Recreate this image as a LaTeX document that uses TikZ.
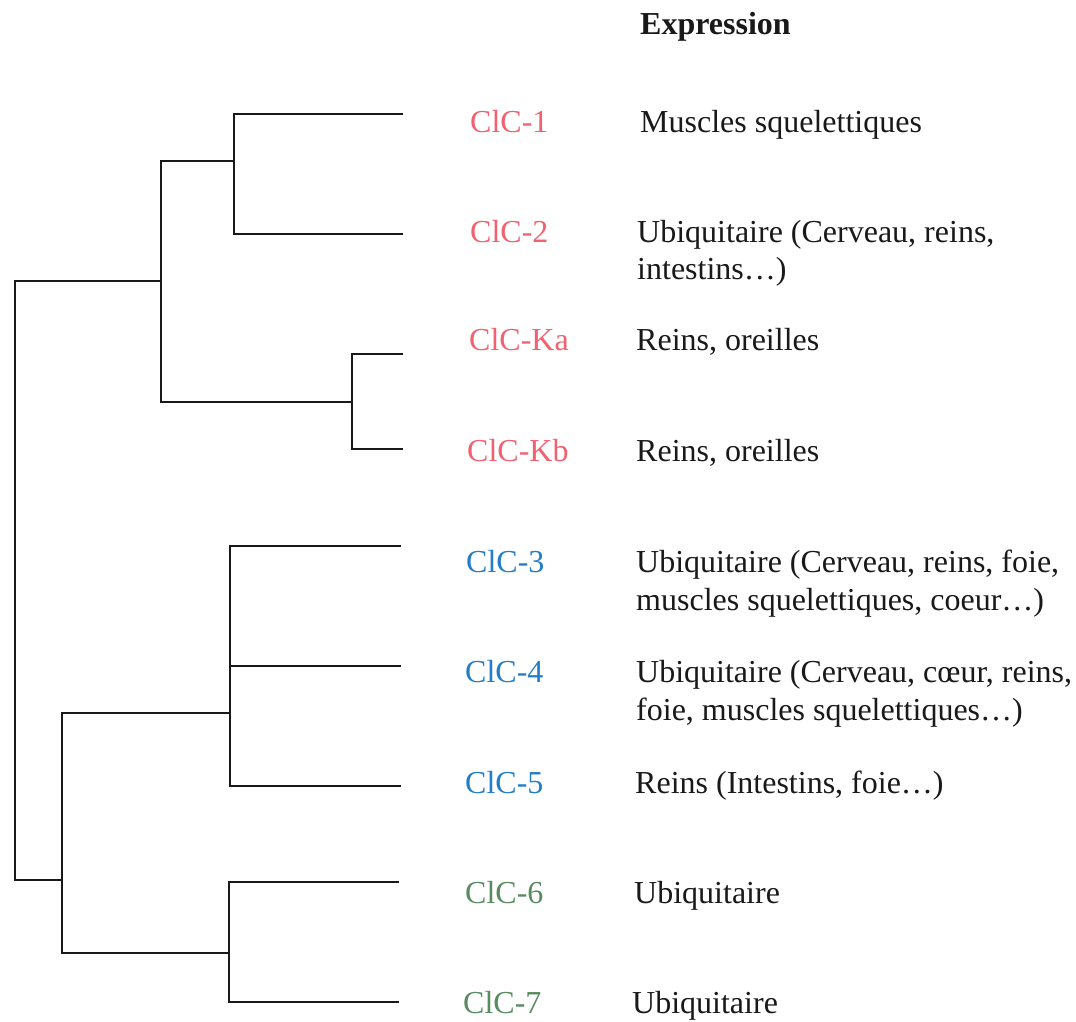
\documentclass[tikz,border=0pt]{standalone}
\usepackage{fontspec}
\setmainfont{Liberation Serif}
\definecolor{clcred}{RGB}{240,98,112}
\definecolor{clcblue}{RGB}{36,125,200}
\definecolor{clcgreen}{RGB}{88,140,96}
\tikzset{
  branch/.style={draw=black!90, line width=2.3pt, line cap=rect, line join=miter},
  txt/.style={anchor=base west, inner sep=0pt, font=\fontsize{32}{37}\selectfont, text=black!90},
  lab/.style={txt},
}
\begin{document}
\begin{tikzpicture}[x=1pt,y=-1pt]
\useasboundingbox (0,0) rectangle (1076,1021);
% leaf ends
\coordinate (c1) at (402,114);
\coordinate (c2) at (402,234);
\coordinate (ca) at (402,354);
\coordinate (cb) at (402,449);
\coordinate (c3) at (400,546);
\coordinate (c4) at (400,666);
\coordinate (c5) at (400,786);
\coordinate (c6) at (398,882);
\coordinate (c7) at (398,1002);
% internal joins
\coordinate (a12) at (234,161);
\coordinate (aK) at (352,402);
\coordinate (aA) at (161,281);
\coordinate (a345) at (230,713);
\coordinate (a67) at (229,953);
\coordinate (aB) at (62,880);
\coordinate (root) at (15,580);
% branches
\draw[branch] (c1) -| (a12) |- (c2);
\draw[branch] (ca) -| (aK) |- (cb);
\draw[branch] (a12) -| (aA) |- (aK);
\draw[branch] (c3) -| (a345) |- (c5);
\draw[branch] (c4) -- (c4 -| a345);
\draw[branch] (c6) -| (a67) |- (c7);
\draw[branch] (a345) -| (aB) |- (a67);
\draw[branch] (aA) -| (root) |- (aB);
% header
\node[txt, font=\fontsize{32}{37}\selectfont\bfseries] (hdr) at (640,34) {Expression};
% labels
\node[lab, text=clcred] (l1) at (470,132) {ClC-1};
\node[lab, text=clcred] (l2) at (470,242) {ClC-2};
\node[lab, text=clcred] (lka) at (469,350) {ClC-Ka};
\node[lab, text=clcred] (lkb) at (467,461) {ClC-Kb};
\node[lab, text=clcblue] (l3) at (466,572) {ClC-3};
\node[lab, text=clcblue] (l4) at (465,682) {ClC-4};
\node[lab, text=clcblue] (l5) at (465,793) {ClC-5};
\node[lab, text=clcgreen] (l6) at (465,903) {ClC-6};
\node[lab, text=clcgreen] (l7) at (463,1013) {ClC-7};
% expression texts
\node[txt] (e1) at (640,132) {Muscles squelettiques};
\node[txt] (e2a) at (637,242) {Ubiquitaire (Cerveau, reins,};
\node[txt] (e2b) at (637,279) {intestins\ldots)};
\node[txt] (eka) at (636,350) {Reins, oreilles};
\node[txt] (ekb) at (636,461) {Reins, oreilles};
\node[txt] (e3a) at (636,572) {Ubiquitaire (Cerveau, reins, foie,};
\node[txt] (e3b) at (636,610) {muscles squelettiques, coeur\ldots)};
\node[txt] (e4a) at (636,682) {Ubiquitaire (Cerveau, cœur, reins,};
\node[txt] (e4b) at (636,720) {foie, muscles squelettiques\ldots)};
\node[txt] (e5) at (635,793) {Reins (Intestins, foie\ldots)};
\node[txt] (e6) at (634,903) {Ubiquitaire};
\node[txt] (e7) at (632,1013) {Ubiquitaire};
\end{tikzpicture}
\end{document}
